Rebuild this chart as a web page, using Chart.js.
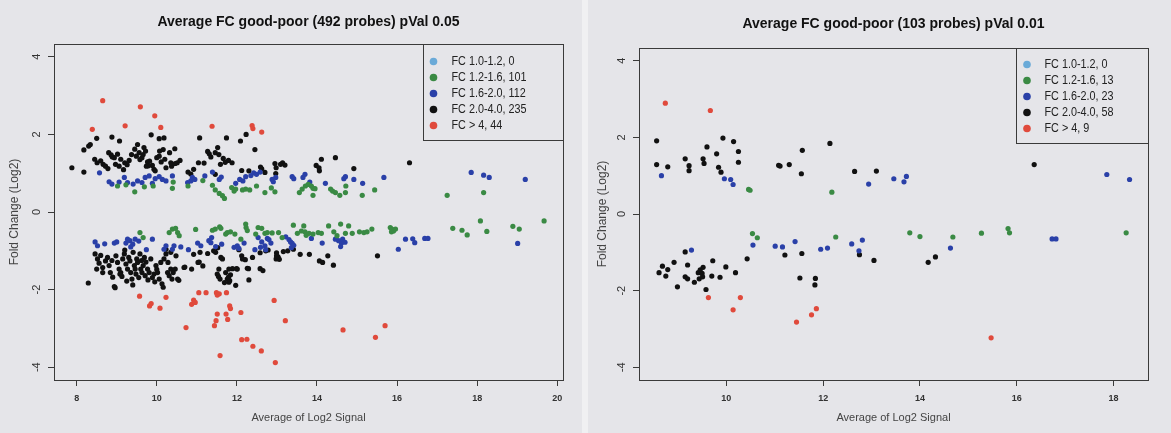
<!DOCTYPE html>
<html><head><meta charset="utf-8">
<script src="https://cdn.jsdelivr.net/npm/chart.js@4"></script>
<style>
html,body{margin:0;padding:0;background:#f0f0f2;}
#wrap{position:relative;width:1171px;height:433px;overflow:hidden;background:#f0f0f2}
.panel{position:absolute;top:0;height:433px;background:#e5e5e9}
#p1{left:0;width:582px}
#p2{left:588px;width:583px}
canvas{display:block}
</style></head>
<body><div id="wrap">
<div class="panel" id="p1"><canvas id="c1" width="582" height="433"></canvas></div>
<div class="panel" id="p2"><canvas id="c2" width="583" height="433"></canvas></div>
</div>
<script>
const LEFT_TITLE = 'Average FC good-poor (492 probes) pVal 0.05';
const RIGHT_TITLE = 'Average FC good-poor (103 probes) pVal 0.01';
const X_LABEL = 'Average of Log2 Signal';
const Y_LABEL = 'Fold Change (Log2)';
const SERIES_NAMES = ['FC 1.0-1.2', 'FC 1.2-1.6', 'FC 1.6-2.0', 'FC 2.0-4.0', 'FC > 4'];
const LEFT_COUNTS = [0, 101, 112, 235, 44];
const RIGHT_COUNTS = [0, 13, 23, 58, 9];
const LEFT_X_TICKS = [8, 10, 12, 14, 16, 18, 20];
const RIGHT_X_TICKS = [10, 12, 14, 16, 18];
const Y_TICKS = [-4, -2, 0, 2, 4];
const COLORS = ['#6aaad8', '#3a8a44', '#2a40a8', '#111111', '#e04a3c'];

// ---------- left panel (pVal 0.05) ----------
const L_FC10_12 = [];
const L_FC12_16 = [
[9.02,0.67],[9.23,0.70],[9.45,0.52],[9.69,0.65],[9.91,0.67],[10.39,0.61],[10.41,0.77],[10.78,0.67],[11.15,0.81],[11.39,0.69],
[11.46,0.57],[11.56,0.48],[11.64,0.42],[11.69,0.35],[11.87,0.63],[11.93,0.54],[11.97,0.59],[12.14,0.57],[12.22,0.59],[12.32,0.57],
[12.49,0.67],[12.70,0.50],[12.86,0.62],[12.95,0.52],[13.63,0.59],[13.56,0.50],[13.71,0.67],[13.78,0.71],[13.86,0.67],[13.90,0.61],
[13.95,0.60],[13.90,0.43],[14.34,0.59],[14.39,0.54],[14.46,0.50],[14.57,0.43],[14.71,0.50],[14.72,0.67],[15.13,0.43],[15.44,0.57],
[17.25,0.43],[18.16,0.50],
[9.58,-0.53],[9.66,-0.66],[10.31,-0.53],[10.39,-0.44],[10.47,-0.42],[10.52,-0.53],[10.56,-0.61],[10.97,-0.45],[11.39,-0.47],[11.46,-0.44],
[11.57,-0.38],[11.60,-0.42],[11.72,-0.57],[11.76,-0.53],[11.84,-0.51],[11.95,-0.57],[12.10,-0.70],[12.22,-0.31],[12.23,-0.40],[12.26,-0.48],
[12.47,-0.57],[12.53,-0.40],[12.62,-0.42],[12.70,-0.55],[12.76,-0.53],[12.88,-0.54],[13.04,-0.53],[13.13,-0.66],[13.41,-0.34],
[13.51,-0.55],[13.61,-0.49],[13.67,-0.36],[13.70,-0.51],[13.73,-0.60],[13.80,-0.55],[13.90,-0.57],[14.03,-0.53],[14.11,-0.55],
[14.29,-0.36],[14.42,-0.51],[14.50,-0.61],[14.59,-0.31],[14.71,-0.55],[14.79,-0.36],[14.88,-0.55],[15.06,-0.51],[15.17,-0.53],
[15.25,-0.51],[15.37,-0.44],[15.83,-0.40],[15.87,-0.44],[15.91,-0.49],[15.86,-0.51],[15.96,-0.44],[17.39,-0.42],[17.62,-0.47],[17.75,-0.59],
[18.08,-0.23],[18.24,-0.50],[18.89,-0.37],[19.05,-0.44],[19.67,-0.23]
];
const L_FC16_20 = [
[8.57,1.01],[8.81,0.78],[8.88,0.72],[9.06,0.77],[9.19,0.89],[9.27,0.76],[9.41,0.72],[9.52,0.80],[9.63,0.76],[9.71,0.89],
[9.81,0.93],[9.89,0.74],[9.96,0.86],[10.06,0.91],[10.14,0.84],[10.23,0.80],[10.39,0.93],[10.77,0.76],[10.85,0.80],[10.89,0.89],
[10.95,0.84],[11.20,0.93],[11.39,1.03],[11.56,0.84],[11.61,0.90],[11.97,0.74],[12.07,0.84],[12.15,0.80],[12.22,0.91],[12.35,0.94],
[12.42,1.01],[12.49,0.97],[12.58,1.03],[12.88,0.84],[12.97,0.89],[12.91,0.78],[13.38,0.91],[13.42,0.86],[13.65,0.89],[13.70,0.97],
[13.82,0.77],[14.21,0.74],[14.67,0.86],[14.71,0.91],[14.92,0.84],[15.14,0.74],[15.67,0.89],[17.85,1.02],[18.16,0.95],[18.30,0.89],[19.20,0.84],
[8.46,-0.77],[8.52,-0.87],[8.94,-0.80],[9.00,-0.77],[9.23,-0.80],[9.27,-0.70],[9.33,-0.74],[9.40,-0.83],[9.46,-0.70],[9.74,-0.97],
[9.89,-0.70],[10.18,-0.96],[10.23,-0.87],[10.39,-0.96],[10.43,-0.87],[10.79,-0.97],[11.02,-0.80],[11.10,-0.87],[11.30,-0.74],[11.37,-0.66],
[11.35,-0.79],[11.47,-0.89],[11.93,-0.91],[12.01,-0.87],[12.05,-0.94],[12.45,-0.97],[12.53,-0.66],[12.59,-0.91],[12.62,-0.77],[12.70,-0.87],
[12.72,-0.97],[12.76,-0.68],[12.80,-0.71],[13.22,-0.64],[13.30,-0.71],[13.34,-0.77],[13.38,-0.81],[13.42,-0.86],[13.36,-0.92],[13.86,-0.68],
[14.13,-0.80],[14.46,-0.70],[14.54,-0.74],[14.61,-0.80],[14.64,-0.70],[14.59,-0.89],[16.03,-0.96],[16.21,-0.70],[16.39,-0.69],[16.44,-0.79],
[16.69,-0.68],[16.77,-0.68],[19.01,-0.81],[9.55,-0.75],[11.62,-0.83],[12.18,-0.80],[9.35,-0.90],[8.70,-0.82],[12.85,-0.80],[14.70,-0.78],[10.60,-0.90]
];
const L_FC20_40 = [
[7.88,1.14],[8.18,1.03],[8.18,1.60],[8.30,1.70],[8.34,1.74],[8.50,1.90],[8.45,1.36],[8.51,1.27],[8.66,1.23],[8.80,1.53],
[8.88,1.93],[8.86,1.47],[8.89,1.42],[8.78,1.12],[8.97,1.23],[9.06,1.18],[9.07,1.83],[9.10,1.36],[9.20,1.27],[9.17,1.09],
[9.26,1.22],[9.37,1.48],[9.45,1.62],[9.49,1.44],[9.52,1.74],[9.56,1.53],[9.63,1.40],[9.66,1.48],[9.68,1.66],[9.72,1.57],
[9.74,1.18],[9.77,1.29],[9.82,1.31],[9.86,1.99],[9.89,1.20],[9.93,1.10],[10.00,1.40],[10.07,1.57],[10.11,1.29],[10.18,1.91],
[10.20,1.36],[10.23,1.14],[10.32,1.53],[10.37,1.18],[10.45,1.63],[10.51,1.27],[10.58,1.33],[10.78,1.03],[10.85,0.98],[10.92,1.10],
[11.07,1.91],[11.04,1.27],[11.18,1.26],[11.27,1.56],[11.31,1.50],[11.35,1.42],[11.52,1.66],[11.46,1.53],[11.55,1.48],[11.59,1.23],
[11.66,1.38],[11.71,1.28],[11.74,1.91],[11.79,1.33],[11.88,1.27],[12.09,1.83],[12.23,2.00],[12.45,1.61],[12.12,1.07],[12.30,1.06],
[12.59,1.16],[12.62,1.11],[12.70,1.02],[12.95,1.25],[12.98,1.14],[12.97,0.99],[13.09,1.23],[13.14,1.27],[13.20,1.21],[13.98,1.20],
[14.05,1.14],[14.06,1.06],[14.11,1.36],[14.46,1.40],[14.92,1.12],[16.31,1.27],
[8.60,1.32],[8.72,1.18],[8.94,1.40],[9.02,1.49],[9.31,1.33],[9.58,1.35],[9.79,1.19],[9.96,1.06],[10.06,1.44],[10.16,1.61],
[10.35,1.27],[10.46,1.25],[11.46,0.97],[10.06,1.89],
[8.29,-1.83],[8.46,-1.08],[8.52,-1.21],[8.56,-1.32],[8.50,-1.47],[8.65,-1.43],[8.65,-1.56],[8.72,-1.26],[8.77,-1.17],[8.81,-1.38],
[8.84,-1.56],[8.90,-1.68],[8.94,-1.92],[8.96,-1.95],[8.98,-1.13],[9.02,-1.30],[9.06,-1.47],[9.10,-1.56],[9.13,-1.66],[9.15,-1.21],
[9.19,-1.08],[9.23,-1.34],[9.27,-1.47],[9.30,-1.17],[9.33,-1.26],[9.35,-1.56],[9.38,-1.73],[9.41,-1.04],[9.44,-1.38],[9.46,-1.47],
[9.48,-1.60],[9.50,-1.21],[9.52,-1.30],[9.55,-1.69],[9.58,-1.08],[9.60,-1.47],[9.63,-1.56],[9.66,-1.38],[9.69,-1.17],[9.71,-1.64],
[9.73,-1.29],[9.77,-1.47],[9.81,-1.56],[9.85,-1.21],[9.89,-1.69],[9.93,-1.60],[9.98,-1.38],[10.02,-1.56],[10.06,-1.73],[10.13,-1.85],
[10.16,-1.94],[10.18,-1.21],[10.23,-1.08],[10.27,-1.56],[10.31,-1.64],[10.35,-1.47],[10.38,-1.73],[10.41,-1.56],[10.46,-1.47],[10.52,-1.73],
[10.23,-0.96],[10.35,-1.04],[10.48,-1.13],[10.68,-1.43],[10.87,-1.47],[11.06,-1.29],[11.08,-1.04],[11.47,-1.04],[11.60,-1.17],[11.64,-1.21],
[11.55,-1.47],[11.51,-1.60],[11.54,-1.66],[11.58,-1.73],[11.72,-1.56],[11.76,-1.73],[11.80,-1.81],
[11.89,-1.46],[11.99,-1.46],[11.97,-1.89],[11.84,-1.62],[11.69,-1.82],[12.29,-1.46],[12.30,-1.75],[12.58,-1.46],[12.65,-1.51],[12.12,-1.13],
[12.21,-1.23],[12.39,-1.17],[12.58,-1.05],[12.72,-1.00],[12.78,-0.98],[12.99,-1.05],[13.02,-1.15],[13.06,-1.22],[13.16,-1.02],[13.27,-1.00],
[13.41,-0.96],[13.58,-1.09],[13.81,-1.09],[14.06,-1.26],[14.14,-1.30],[14.27,-1.13],[14.41,-1.37],[15.51,-1.13],[11.27,-1.07],[11.42,-1.00],
[11.52,-0.92],[11.15,-1.39],[11.03,-1.30],[10.92,-1.09],[10.70,-1.42],[10.55,-1.76],
[11.80,-1.47],[12.01,-1.47],[12.26,-1.45],[11.79,-1.68],[11.82,-1.77],[12.05,-0.97],[12.14,-1.21],[12.98,-1.21],[13.03,-1.17],[12.99,-1.13],
[8.60,-1.12],[8.88,-1.25],[9.08,-1.60],[9.25,-1.78],[9.40,-1.88],[9.62,-1.25],[9.78,-1.75],[10.00,-1.48],[10.10,-1.30],[9.20,-0.98],
[10.28,-1.30],[9.95,-1.80]
];
const L_FC4 = [
[8.39,2.13],[8.65,2.87],[9.21,2.22],[9.59,2.71],[9.95,2.48],[10.10,2.18],[11.38,2.21],[12.38,2.23],[12.40,2.15],[12.62,2.06],
[9.57,-2.17],[9.86,-2.36],[9.82,-2.42],[10.08,-2.48],[10.23,-2.20],[10.73,-2.98],[10.87,-2.38],[10.92,-2.27],[10.96,-2.33],[11.05,-2.08],
[11.23,-2.08],[11.49,-2.08],[11.51,-2.14],[11.56,-2.11],[11.74,-2.08],[11.44,-2.93],[11.48,-2.80],[11.51,-2.63],[11.73,-2.63],[11.77,-2.77],
[11.82,-2.42],[11.84,-2.49],[11.58,-3.70],[12.10,-2.59],[12.12,-3.29],[12.25,-3.28],[12.40,-3.46],[12.61,-3.58],[12.93,-2.28],[12.96,-3.88],
[13.21,-2.80],[14.65,-3.04],[15.46,-3.23],[15.70,-2.93]
];

// ---------- right panel (pVal 0.01) ----------
const R_FC10_12 = [];
const R_FC12_16 = [
[10.46,0.64],[10.49,0.62],[12.18,0.57],[10.54,-0.51],[10.64,-0.62],[12.26,-0.60],[13.79,-0.49],[14.00,-0.59],[14.68,-0.60],[15.27,-0.50],
[15.82,-0.38],[15.85,-0.49],[18.26,-0.49]
];
const R_FC16_20 = [
[8.66,1.00],[9.96,0.92],[10.09,0.90],[10.14,0.77],[12.94,0.78],[9.28,-0.94],[10.55,-0.81],[11.01,-0.84],[11.16,-0.86],[11.42,-0.72],
[11.95,-0.92],[12.09,-0.89],[12.59,-0.78],[12.74,-0.96],[12.81,-0.68],[13.46,0.92],[13.67,0.84],[13.72,0.98],[17.86,1.03],[18.33,0.90],
[14.63,-0.89],[16.73,-0.65],[16.81,-0.65]
];
const R_FC20_40 = [
[8.56,1.91],[8.56,1.29],[8.79,1.23],[9.15,1.44],[9.23,1.26],[9.23,1.13],[9.52,1.44],[9.54,1.32],[9.60,1.75],[9.80,1.57],
[9.93,1.98],[10.15,1.89],[10.25,1.63],[10.25,1.35],[9.84,1.22],[9.89,1.09],[11.08,1.27],[11.11,1.25],[11.30,1.29],[11.57,1.66],
[11.55,1.05],[12.14,1.84],[12.65,1.11],[13.10,1.12],[16.36,1.29],
[8.61,-1.53],[8.68,-1.36],[8.75,-1.62],[8.79,-1.45],[8.92,-1.26],[8.99,-1.90],[9.15,-0.99],[9.20,-1.33],[9.15,-1.64],[9.20,-1.69],
[9.34,-1.78],[9.42,-1.53],[9.46,-1.46],[9.52,-1.39],[9.44,-1.69],[9.51,-1.64],[9.58,-1.97],[9.70,-1.62],[9.72,-1.22],[9.87,-1.65],
[9.99,-1.38],[10.19,-1.53],[10.43,-1.17],[11.21,-1.07],[11.56,-1.03],[11.52,-1.67],[11.84,-1.68],[11.83,-1.85],[12.75,-1.06],[13.05,-1.21],
[14.17,-1.26],[14.32,-1.12],[9.50,-1.55]
];
const R_FC4 = [
[8.74,2.89],[9.67,2.70],[9.63,-2.18],[10.29,-2.18],[10.14,-2.50],[11.45,-2.82],[11.76,-2.63],[11.86,-2.47],[15.47,-3.23]
];

const FONT = '"Liberation Sans", Arial, Helvetica, sans-serif';

const rPlotPlugin = {
  id: 'rplot',
  afterDatasetsDraw(chart, args, opts) {
    const {ctx, chartArea: a} = chart;
    ctx.save();
    ctx.strokeStyle = '#3a3a3a';
    ctx.lineWidth = 1;
    const L = Math.round(a.left) + 0.5, T = Math.round(a.top) + 0.5;
    const W = Math.round(a.right) - Math.round(a.left), H = Math.round(a.bottom) - Math.round(a.top);
    ctx.strokeRect(L, T, W, H);
    // rotated y tick labels, positioned by the y scale
    const ys = chart.scales.y;
    ctx.fillStyle = '#333';
    ctx.font = '11px ' + FONT;
    ctx.textAlign = 'center';
    ctx.textBaseline = 'middle';
    ys.ticks.forEach(t => {
      const py = ys.getPixelForValue(t.value);
      ctx.save();
      ctx.translate(opts.yLabelX, py);
      ctx.rotate(-Math.PI / 2);
      ctx.fillText(String(t.value), 0, 0);
      ctx.restore();
    });
    // legend box (R style, top right inside plot)
    const lg = opts.legend;
    const x0 = Math.round(a.right - lg.width) + 0.5;
    ctx.strokeRect(x0, T, Math.round(lg.width), Math.round(lg.height));
    ctx.font = lg.fontSize + 'px ' + FONT;
    ctx.textAlign = 'left';
    chart.data.datasets.forEach((ds, i) => {
      const cy = a.top + lg.first + i * lg.step;
      ctx.beginPath();
      ctx.arc(x0 + lg.dot, cy, lg.r, 0, Math.PI * 2);
      ctx.fillStyle = ds.backgroundColor;
      ctx.fill();
      ctx.fillStyle = '#222';
      ctx.save();
      ctx.translate(x0 + lg.text, cy);
      ctx.scale(lg.squeeze, 1);
      ctx.fillText(ds.label, 0, 0);
      ctx.restore();
    });
    ctx.restore();
  }
};

function makeChart(id, cfg) {
  const datasets = cfg.series.map((d, i) => ({
    label: SERIES_NAMES[i] + ', ' + cfg.counts[i],
    data: d.map(p => ({x: p[0], y: p[1]})),
    backgroundColor: COLORS[i],
    borderWidth: 0,
    pointRadius: 2.6,
    pointHoverRadius: 2.6
  }));
  return new Chart(document.getElementById(id), {
    type: 'scatter',
    data: {datasets},
    options: {
      responsive: false,
      animation: false,
      events: [],
      layout: {padding: {left: 0, right: cfg.padRight, top: 0, bottom: 0}},
      plugins: {
        legend: {display: false},
        tooltip: {enabled: false},
        title: {
          display: true, text: cfg.title, fullSize: false, color: '#111',
          font: {family: FONT, size: 14, weight: 'bold', lineHeight: 1.2},
          padding: {top: cfg.titlePadTop, bottom: cfg.titlePadBottom}
        },
        rplot: {yLabelX: cfg.yLabelX, legend: cfg.legend}
      },
      scales: {
        x: {
          type: 'linear', min: cfg.xMin, max: cfg.xMax,
          afterBuildTicks: s => { s.ticks = cfg.xTicks.map(v => ({value: v})); },
          grid: {display: true, drawOnChartArea: false, drawTicks: true, tickLength: 6, color: '#3a3a3a'},
          border: {display: true, color: '#3a3a3a'},
          ticks: {padding: 7, color: '#333', autoSkip: false, maxRotation: 0, minRotation: 0,
                  font: {family: FONT, size: 9, weight: 'bold', lineHeight: 1.2}},
          title: {display: true, text: X_LABEL, color: '#444',
                  font: {family: FONT, size: 11, lineHeight: 1.2}, padding: {top: 0.6, bottom: 8.4}}
        },
        y: {
          type: 'linear', min: -4.33, max: 4.33,
          afterBuildTicks: s => { s.ticks = Y_TICKS.map(v => ({value: v})); },
          grid: {display: true, drawOnChartArea: false, drawTicks: true, tickLength: 6, color: '#3a3a3a'},
          border: {display: true, color: '#3a3a3a'},
          ticks: {display: false},
          title: {display: true, text: Y_LABEL, color: '#444',
                  font: {family: FONT, size: 12, lineHeight: 1.2}, padding: {top: 7.8, bottom: cfg.yTitlePadBottom}}
        }
      }
    },
    plugins: [rPlotPlugin]
  });
}

makeChart('c1', {
  title: LEFT_TITLE,
  series: [L_FC10_12, L_FC12_16, L_FC16_20, L_FC20_40, L_FC4],
  counts: LEFT_COUNTS,
  xTicks: LEFT_X_TICKS, xMin: 7.434, xMax: 20.142,
  padRight: 19, titlePadTop: 13.6, titlePadBottom: 13.6,
  yTitlePadBottom: 25.8, yLabelX: 37,
  legend: {width: 140, height: 96, first: 17.5, step: 16, dot: 10, r: 3.8, text: 28, fontSize: 12, squeeze: 0.9}
});
makeChart('c2', {
  title: RIGHT_TITLE,
  series: [R_FC10_12, R_FC12_16, R_FC16_20, R_FC20_40, R_FC4],
  counts: RIGHT_COUNTS,
  xTicks: RIGHT_X_TICKS, xMin: 8.196, xMax: 18.711,
  padRight: 23, titlePadTop: 15.6, titlePadBottom: 15.6,
  yTitlePadBottom: 22.8, yLabelX: 34,
  legend: {width: 132, height: 95, first: 16.5, step: 16, dot: 10.5, r: 3.8, text: 28, fontSize: 12, squeeze: 0.9}
});
</script>
</body></html>
